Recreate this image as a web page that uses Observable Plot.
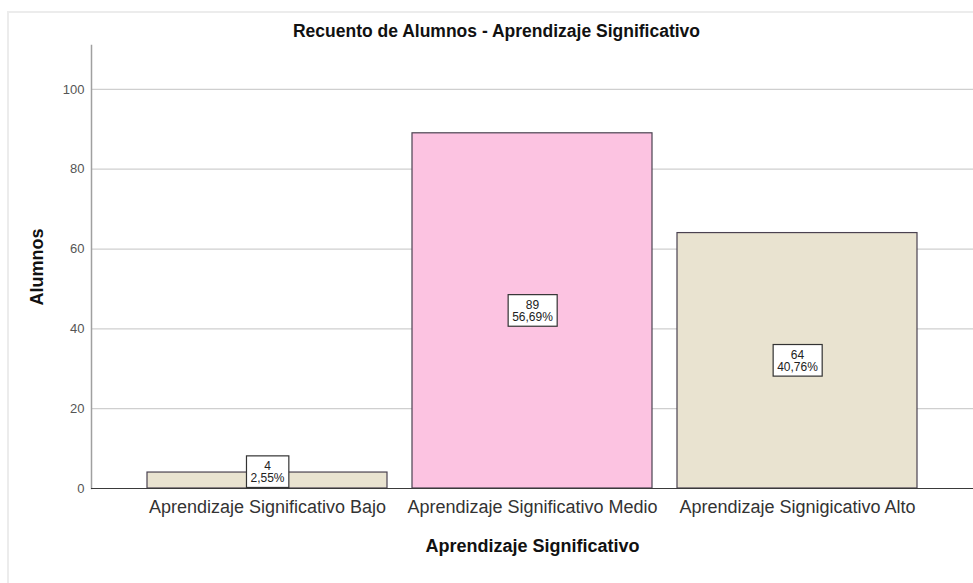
<!DOCTYPE html>
<html><head><meta charset="utf-8">
<script src="https://cdn.jsdelivr.net/npm/d3@7"></script>
<script src="https://cdn.jsdelivr.net/npm/@observablehq/plot@0.6"></script>
<style>
html,body{margin:0;padding:0;background:#fff;}
#wrap{position:relative;width:973px;height:583px;overflow:hidden;}
#border{position:absolute;left:7px;top:11px;right:-5px;bottom:-5px;border-left:2px solid #ececec;border-top:2px solid #ececec;pointer-events:none;}
</style>
</head><body>
<div id="wrap"><div id="border"></div></div>
<script>
const title = "Recuento de Alumnos - Aprendizaje Significativo";
const xTitle = "Aprendizaje Significativo";
const yTitle = "Alumnos";
const categories = ["Aprendizaje Significativo Bajo", "Aprendizaje Significativo Medio", "Aprendizaje Signigicativo Alto"];
const counts = [4, 89, 64];
const percents = ["2,55%", "56,69%", "40,76%"];
const fills = ["#E9E3D0", "#FCC3E1", "#E9E3D0"];
const yTicks = [0, 20, 40, 60, 80, 100];

const data = categories.map((c, i) => ({cat: c, count: counts[i], pct: percents[i], fill: fills[i]}));
const font = "'Liberation Sans', Arial, sans-serif";

const chart = Plot.plot({
  width: 973,
  height: 583,
  marginLeft: 91,
  marginRight: 0,
  marginTop: 45,
  marginBottom: 95,
  style: {fontFamily: font, background: "transparent", overflow: "visible"},
  x: {domain: categories, paddingInner: 0.094, paddingOuter: 0.211, axis: null},
  y: {domain: [0, 111], axis: null},
  marks: [
    Plot.ruleY(yTicks.filter(d => d > 0), {stroke: "#cfcfcf", strokeWidth: 1.2}),
    Plot.frame({anchor: "left", stroke: "#a0a0a0", strokeWidth: 1.5}),
    Plot.barY(data, {x: "cat", y: "count", fill: "fill", stroke: "#4a4250", strokeWidth: 1.2}),
    Plot.ruleY([0], {stroke: "#3a3a3a", strokeWidth: 1.2}),
    Plot.axisY({ticks: yTicks, tickSize: 0, tickPadding: 7, fontSize: 13, label: null, fill: "#555"}),
    Plot.axisX({tickSize: 0, tickPadding: 12, fontSize: 18, label: null, fill: "#333"}),
    Plot.text(data, {
      x: "cat",
      y: d => Math.max(d.count / 2, 4.1),
      text: d => `${d.count}\n${d.pct}`,
      fontSize: 12,
      lineHeight: 1.05,
      fill: "#222",
      ariaDescription: "bar-label"
    }),
    Plot.text([title], {frameAnchor: "top", lineAnchor: "middle", textAnchor: "middle", dx: -36, dy: -14, fontSize: 17.5, fontWeight: "bold", fill: "#111"}),
    Plot.text([xTitle], {frameAnchor: "bottom", lineAnchor: "middle", textAnchor: "middle", dy: 58, fontSize: 18, fontWeight: "bold", fill: "#111"}),
    Plot.text([yTitle], {frameAnchor: "left", lineAnchor: "middle", textAnchor: "middle", dx: -54, rotate: -90, fontSize: 18, fontWeight: "bold", fill: "#111"})
  ]
});

document.getElementById("wrap").appendChild(chart);
chart.style.position = "absolute";
chart.style.left = "0";
chart.style.top = "0";

// Add white boxes behind the value labels, sized from each label's own text box
const ns = "http://www.w3.org/2000/svg";
let labelTexts = chart.querySelectorAll('g[aria-description="bar-label"] text');
if (!labelTexts.length) {
  const g = chart.querySelectorAll('g[aria-label="text"]')[0];
  labelTexts = g ? g.querySelectorAll("text") : [];
}
labelTexts.forEach(t => {
  const b = t.getBBox();
  const r = document.createElementNS(ns, "rect");
  r.setAttribute("x", b.x - 4);
  r.setAttribute("y", b.y - 3);
  r.setAttribute("width", b.width + 8);
  r.setAttribute("height", b.height + 5);
  r.setAttribute("fill", "#fff");
  r.setAttribute("stroke", "#333");
  r.setAttribute("stroke-width", "1.2");
  const tr = t.getAttribute("transform");
  if (tr) r.setAttribute("transform", tr);
  t.parentNode.insertBefore(r, t);
});
</script>
</body></html>
